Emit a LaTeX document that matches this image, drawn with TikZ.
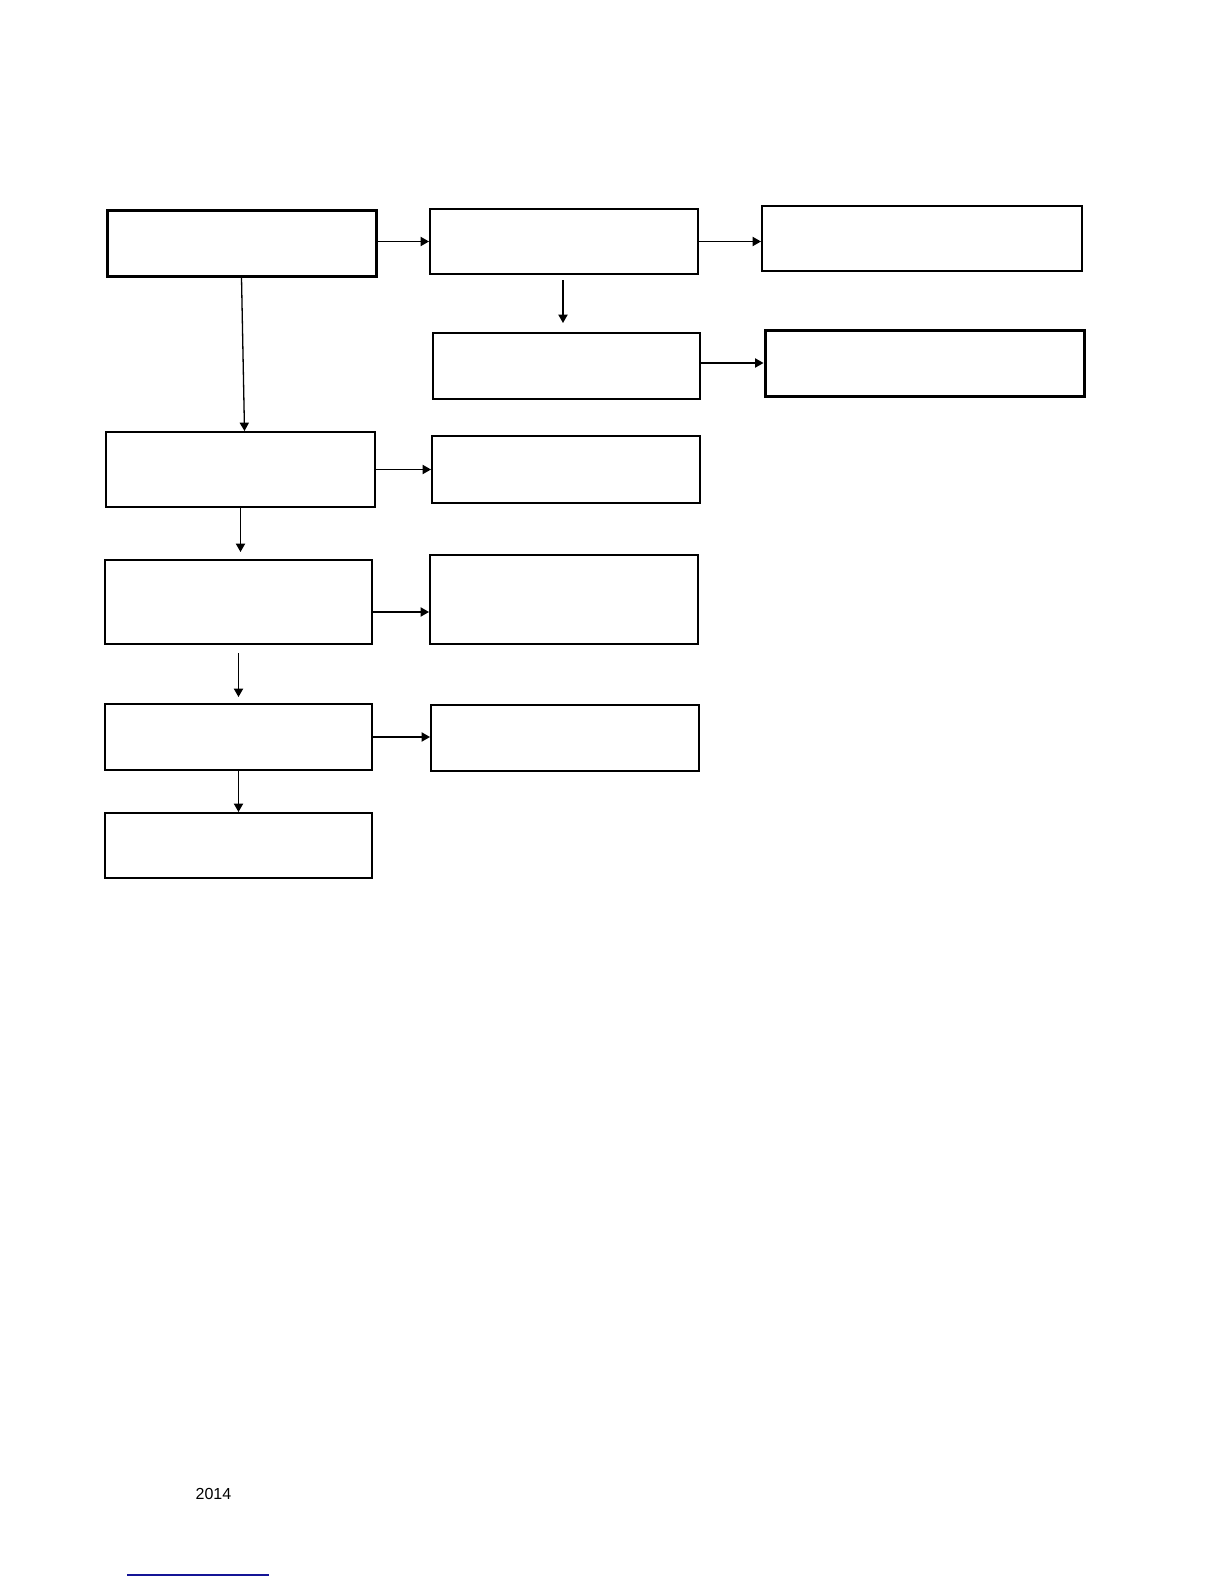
\documentclass[tikz,border=0pt]{standalone}
\usepackage{fontspec}
\setmainfont{Liberation Sans}
\usetikzlibrary{arrows.meta}
\begin{document}
\begin{tikzpicture}[x=0.5pt,y=-0.5pt,
    box/.style={draw,line width=1pt,inner sep=0pt},
    thickbox/.style={box,line width=1.5pt},
    arr/.style={line width=0.65pt,-{Triangle[length=4.2pt,width=4.6pt]}}]
                \useasboundingbox (0,0) rectangle (1224,1584);
                % first row
                \node[thickbox,minimum width=134.5pt,minimum height=33pt] (r1c1) at (241.5,243) {};
                \node[box,minimum width=134pt,minimum height=32.5pt] (r1c2) at (564,241.5) {};
                \node[box,minimum width=160pt,minimum height=32.5pt] (r1c3) at (922,238.5) {};
                \node[box,minimum width=133.5pt,minimum height=33pt] (r2c2) at (566.5,366) {};
                \node[thickbox,minimum width=159.5pt,minimum height=33pt] (r2c3) at (924.5,363) {};
                % left column
                \node[box,minimum width=134.5pt,minimum height=37.5pt] (r3c1) at (240.5,469.5) {};
                \node[box,minimum width=134pt,minimum height=33.5pt] (r3c2) at (566,469.5) {};
                \node[box,minimum width=133.5pt,minimum height=42pt] (r4c1) at (238.5,602) {};
                \node[box,minimum width=134pt,minimum height=44.5pt] (r4c2) at (564,599.5) {};
                \node[box,minimum width=133.5pt,minimum height=33pt] (r5c1) at (238.5,737) {};
                \node[box,minimum width=134pt,minimum height=33pt] (r5c2) at (565,738) {};
                \node[box,minimum width=133.5pt,minimum height=32.5pt] (r6c1) at (238.5,845.5) {};
                % arrows
                \draw[arr] (r1c1.east |- r1c2.west) -- (r1c2.west);
                \draw[arr] (r1c2.east) -- (r1c2.east -| r1c3.west);
                \draw[arr,shorten <=2.5pt,shorten >=4.5pt] ([xshift=-0.5pt]r1c2.south) -- ([xshift=-0.5pt]r1c2.south |- r2c2.north);
                \draw[arr] (r2c2.east |- r2c3.west) -- (r2c3.west);
                \draw[arr] (r1c1.south) -- ([xshift=1.5pt]r1c1.south |- r3c1.north);
                \draw[arr] (r3c1.east) -- (r3c2.west);
                \draw[arr,shorten >=3.5pt] (r3c1.south) -- (r3c1.south |- r4c1.north);
                \draw[arr] ([yshift=-5pt]r4c1.east) -- ([yshift=-5pt]r4c1.east -| r4c2.west);
                \draw[arr,shorten <=4pt,shorten >=3pt] (r4c1.south) -- (r5c1.north);
                \draw[arr] (r5c1.east) -- (r5c1.east -| r5c2.west);
                \draw[arr] (r5c1.south) -- (r6c1.north);
                % footer
                \node[font=\fontsize{8}{9.6}\selectfont,inner sep=0pt] (year) at (213.5,1493.5) {2014};
                \draw[line width=0.6pt,color={rgb,255:red,20;green,20;blue,150}] (127,1575) -- (269,1575);
\end{tikzpicture}
\end{document}
